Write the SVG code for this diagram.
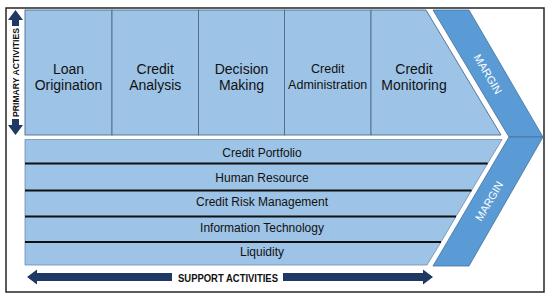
<svg xmlns="http://www.w3.org/2000/svg" width="550" height="298" viewBox="0 0 550 298">
<style>
.cell{fill:#9dc3e6;stroke:#4f6b8c;stroke-width:0.9}
.row{fill:#9dc3e6;stroke:#6a8cb5;stroke-width:0.8}
.sep{stroke:#111;stroke-width:2}
.mar{fill:#5b9bd5;stroke:#41719c;stroke-width:0.8}
.lbl{font-family:"Liberation Sans",Arial,sans-serif;fill:#111;text-anchor:middle}
.big{font-size:14px}
.sup{font-size:12px}
.mt{font-family:"Liberation Sans",Arial,sans-serif;font-size:11px;fill:#fff;text-anchor:middle}
.ax{fill:#1f3864}
.axt{font-family:"Liberation Sans",Arial,sans-serif;font-weight:bold;fill:#111;text-anchor:middle}
</style>
<rect x="0" y="0" width="550" height="298" fill="#fff"/>
<rect x="6" y="8" width="538" height="284" fill="#fff" stroke="#262626" stroke-width="1.5"/>

<g id="loan-origination">
<rect class="cell" x="25" y="10" width="87" height="125"/>
<text class="lbl big" x="68.5" y="73.5">Loan</text>
<text class="lbl big" x="68.5" y="90">Origination</text>
</g>
<g id="credit-analysis">
<rect class="cell" x="112" y="10" width="86.5" height="125"/>
<text class="lbl big" x="155.2" y="73.5">Credit</text>
<text class="lbl big" x="155.2" y="90">Analysis</text>
</g>
<g id="decision-making">
<rect class="cell" x="198.5" y="10" width="86" height="125"/>
<text class="lbl big" x="241.5" y="73.5">Decision</text>
<text class="lbl big" x="241.5" y="90">Making</text>
</g>
<g id="credit-administration">
<rect class="cell" x="284.5" y="10" width="86.5" height="125"/>
<text class="lbl" x="327.7" y="72.5" font-size="12.5">Credit</text>
<text class="lbl" x="327.7" y="88.5" font-size="12.5">Administration</text>
</g>
<g id="credit-monitoring">
<polygon class="cell" points="371,10 426,10 501,135 371,135"/>
<text class="lbl big" x="414" y="73.5">Credit</text>
<text class="lbl big" x="414" y="90">Monitoring</text>
</g>

<g id="margin-primary">
<polygon class="mar" points="433,10 469,10 543,137 509,137"/>
<text class="mt" transform="translate(488,74) rotate(59.4)" y="4">MARGIN</text>
</g>
<g id="margin-support">
<polygon class="mar" points="509,137 543,137 469,266 433,266"/>
<text class="mt" transform="translate(489,201) rotate(-59.4)" y="4">MARGIN</text>
</g>

<g id="credit-portfolio">
<polygon class="row" points="25,139.5 502,139.5 487.6,163.5 25,163.5"/>
<text class="lbl sup" x="262" y="157">Credit Portfolio</text>
</g>
<g id="human-resource">
<polygon class="row" points="25,163.5 487.6,163.5 471.5,190.5 25,190.5"/>
<text class="lbl sup" x="262" y="182">Human Resource</text>
</g>
<g id="credit-risk-management">
<polygon class="row" points="25,190.5 471.5,190.5 456,216.5 25,216.5"/>
<text class="lbl sup" x="262" y="205.5">Credit Risk Management</text>
</g>
<g id="information-technology">
<polygon class="row" points="25,216.5 456,216.5 441,242 25,242"/>
<text class="lbl sup" x="262" y="232">Information Technology</text>
</g>
<g id="liquidity">
<polygon class="row" points="25,242 441,242 427,265 25,265"/>
<text class="lbl sup" x="262" y="256">Liquidity</text>
</g>

<g id="connectors">
<line class="sep" x1="25" y1="163.5" x2="487.6" y2="163.5"/>
<line class="sep" x1="25" y1="190.5" x2="471.5" y2="190.5"/>
<line class="sep" x1="25" y1="216.5" x2="456" y2="216.5"/>
<line class="sep" x1="25" y1="242" x2="441" y2="242"/>
<polygon class="ax" points="15.5,10 23,20 19,20 19,26 12,26 12,20 8,20"/>
<polygon class="ax" points="12,119 19,119 19,125 23,125 15.5,135 8,125 12,125"/>
<polygon class="ax" points="27,277 37,269.5 37,273 172,273 172,281 37,281 37,284.5"/>
<polygon class="ax" points="433,277 423,284.5 423,281 283,281 283,273 423,273 423,269.5"/>
</g>

<g id="axis-labels">
<text class="axt" font-size="8.6" transform="translate(15.5,72.5) rotate(-90)" y="3.1" textLength="89" lengthAdjust="spacingAndGlyphs">PRIMARY ACTIVITIES</text>
<text class="axt" font-size="10" x="228" y="281.5" textLength="100" lengthAdjust="spacingAndGlyphs">SUPPORT ACTIVITIES</text>
</g>
</svg>
